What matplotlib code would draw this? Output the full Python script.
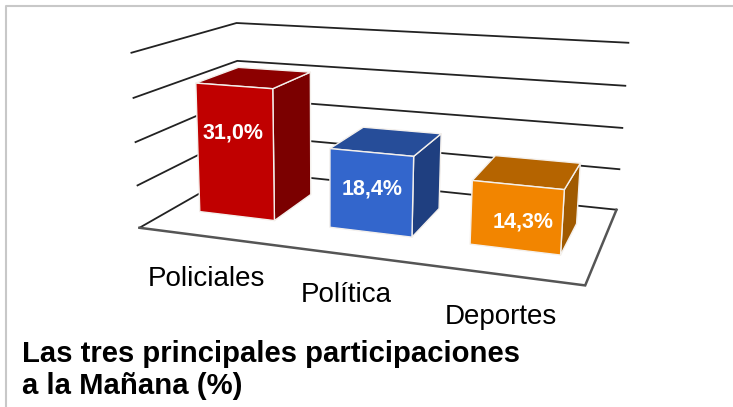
import numpy as np
import matplotlib
matplotlib.use('Agg')
import matplotlib.pyplot as plt
from matplotlib.patches import Polygon

categorias = ['Policiales', 'Política', 'Deportes']
valores = [31.0, 18.4, 14.3]
etiquetas = ['31,0%', '18,4%', '14,3%']
ticks = [0, 10, 20, 30, 40]
titulo = 'Las tres principales participaciones\na la Mañana (%)'

W, H = 733, 407
BARRA_X = (0.225, 0.81)
AJUSTE_X = [-0.01, -0.01, -0.03]
FONDO_BARRA = (0.3, 0.73)

# colours per bar: front, top, side
col_frente = ['#C00000', '#3366CC', '#F28500']
col_techo = ['#8C0000', '#264D99', '#B56400']
col_lado = ['#7B0000', '#1F3F80', '#A05A00']


def ajustar_camara():
    # box corners (x, depth, value) -> pixels
    box = [(0, 0, 0, 141, 227.5), (0, 0, 40, 130, 52.5),
           (0, 1, 0, 238, 171), (0, 1, 40, 238, 23),
           (3, 1, 0, 617, 209), (3, 1, 40, 628, 43),
           (3, 0, 0, 585, 286)]
    A, b = [], []
    for x, d, v, u, w in box:
        A.append([x, d, v, 1, 0, 0, 0, 0, -u*x, -u*d, -u*v])
        b.append(u)
        A.append([0, 0, 0, 0, x, d, v, 1, -w*x, -w*d, -w*v])
        b.append(w)
    p = np.linalg.lstsq(np.array(A, float), np.array(b, float), rcond=None)[0]
    return np.append(p, 1).reshape(3, 4)


CAM = ajustar_camara()


def proj(x, d, v):
    q = CAM @ np.array([x, d, v, 1.0])
    return q[0] / q[2], q[1] / q[2]


fig = plt.figure(figsize=(W / 100, H / 100), dpi=100)
ax = fig.add_axes([0, 0, 1, 1])
ax.set_xlim(0, W)
ax.set_ylim(H, 0)
ax.axis('off')

# outer frame of the pasted chart
ax.plot([6, 6, W], [H, 6, 6], color='#C8C8C8', lw=1.5, zorder=1)

# gridlines on side and back wall
for t in ticks:
    pts = [proj(0, 0, t), proj(0, 1, t), proj(3, 1, t)]
    ax.plot(*zip(*pts), color='#222222', lw=1.3, zorder=2, solid_joinstyle='miter')

# floor edge
pts = [proj(0, 0, 0), proj(3, 0, 0), proj(3, 1, 0)]
ax.plot(*zip(*pts), color='#555555', lw=1.8, zorder=2, solid_joinstyle='miter')

# bars
for i, val in enumerate(valores):
    x0 = i + BARRA_X[0] + AJUSTE_X[i]
    x1 = i + BARRA_X[1] + AJUSTE_X[i]
    d0, d1 = FONDO_BARRA
    caras = [
        ([(x1, d0, 0), (x1, d1, 0), (x1, d1, val), (x1, d0, val)], col_lado[i]),
        ([(x0, d0, val), (x1, d0, val), (x1, d1, val), (x0, d1, val)], col_techo[i]),
        ([(x0, d0, 0), (x1, d0, 0), (x1, d0, val), (x0, d0, val)], col_frente[i]),
    ]
    for cara, color in caras:
        ax.add_patch(Polygon([proj(*c) for c in cara], closed=True, facecolor=color,
                             edgecolor='#F4F0EC', lw=1.0, zorder=3 + i, joinstyle='round'))

# data labels, placed by hand in the original
pos_etiq = [(233, 133), (372, 189), (523, 222)]
for (px, py), txt in zip(pos_etiq, etiquetas):
    ax.text(px, py, txt, color='white', fontsize=15.5, fontweight='bold',
            family='Liberation Sans', ha='center', va='center', zorder=10)

pos_cat = [(206.5, 279), (346, 295), (500.5, 317)]
for (px, py), txt in zip(pos_cat, categorias):
    ax.text(px, py, txt, color='black', fontsize=20, family='Liberation Sans',
            ha='center', va='center', zorder=10)

ax.text(22, 370, titulo, color='black', fontsize=21.1, fontweight='bold',
        family='Liberation Sans', ha='left', va='center', linespacing=1.17, zorder=10)

fig.savefig('out.png', dpi=100, facecolor='white')
plt.close(fig)
